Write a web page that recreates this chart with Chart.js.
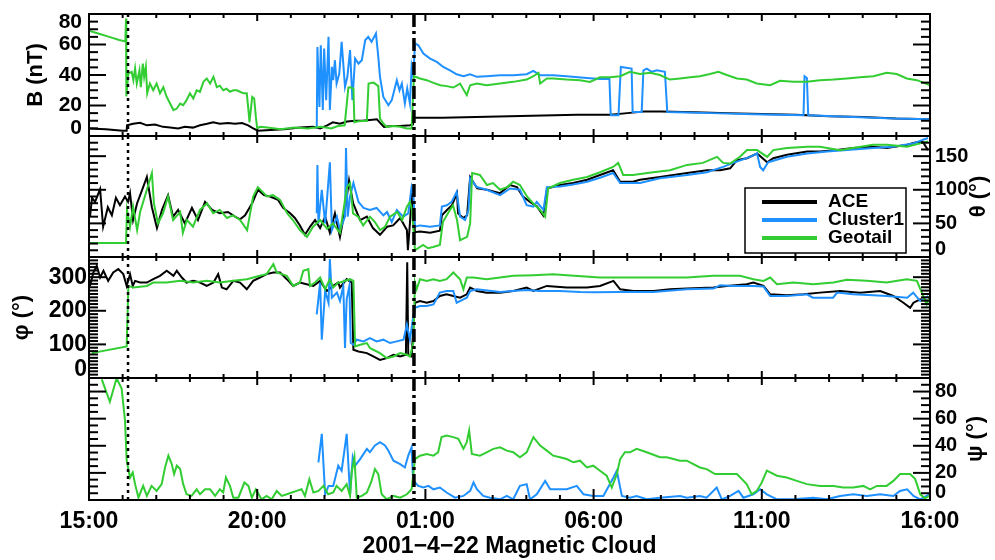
<!DOCTYPE html>
<html>
<head>
<meta charset="utf-8">
<title>2001-4-22 Magnetic Cloud</title>
<script src="https://cdn.jsdelivr.net/npm/chart.js@4.4.1/dist/chart.umd.min.js"></script>
<style>
  html, body { margin: 0; padding: 0; background: #fff; }
  #stack { position: relative; width: 995px; height: 560px; }
  #stack canvas { position: absolute; left: 0; top: 0; }
</style>
</head>
<body>
<div id="stack">
  <canvas id="panelB" width="995" height="560"></canvas>
  <canvas id="panelTheta" width="995" height="560"></canvas>
  <canvas id="panelPhi" width="995" height="560"></canvas>
  <canvas id="panelPsi" width="995" height="560"></canvas>
</div>
<script>
// Time is in hours after 2001-04-21 15:00 UT
const timeTicks = [0, 5, 10, 15, 20, 25];
const timeLabels = ['15:00', '20:00', '01:00', '06:00', '11:00', '16:00'];
const shockTime = 1.16;   // dotted marker
const cloudStart = 9.66;  // dash-dot marker

// Panel 1: |B| (nT), [hour, value]
const aceB = [[0,5],[0.5,4.5],[1.0,3.5],[1.12,3.5],[1.13,7],[1.31,8],[1.52,8.7],[1.72,7],[1.96,7.5],[2.20,6],[2.41,5.5],[2.65,5],[2.85,6],[3.09,5.5],[3.30,7],[3.51,8],[3.69,9],[3.89,8],[4.13,8.5],[4.34,8],[4.55,8.5],[4.73,7],[4.88,5],[5.02,3.5],[5.4,4],[5.8,4.5],[6.27,5.5],[6.66,6],[6.87,5],[7.08,7],[7.25,9],[7.46,8],[7.67,9.5],[7.91,10],[8.12,10],[8.35,10.5],[8.56,11],[8.68,8],[8.77,6],[9.01,6.5],[9.25,6.5],[9.54,7],[9.63,7.5],[9.66,12],[10.5,12],[11.5,12.5],[12.5,13],[13.5,13.5],[14.5,14],[15.5,14],[16.0,15],[16.5,16],[17.0,16],[18.0,15.5],[19.0,15],[20.0,14.5],[21.0,14],[22.0,13],[23.0,12.5],[24.0,11.5],[25.0,11]];
const clusterB = [[6.77,5],[6.79,58.4],[6.85,19],[6.89,59.5],[6.95,17],[6.99,57.4],[7.05,23.5],[7.12,65],[7.16,17],[7.22,45.3],[7.26,36.6],[7.31,49.7],[7.36,34.4],[7.44,41],[7.51,61.7],[7.61,32.2],[7.68,38.8],[7.76,56.3],[7.83,23.5],[7.91,50.8],[8.01,47.5],[8.11,49.7],[8.21,62.8],[8.30,65],[8.40,61.7],[8.53,67.2],[8.60,51.9],[8.65,38.8],[8.75,25.6],[8.90,20.2],[9.00,23.5],[9.15,36.6],[9.23,30],[9.30,34.4],[9.39,21.3],[9.46,31.1],[9.54,21.3],[9.59,45.3],[9.64,38.8],[9.69,60.7],[9.79,59.5],[9.94,54.1],[10.14,50.8],[10.34,48.6],[10.53,45.3],[10.73,43.1],[10.93,40.5],[11.13,39.2],[11.33,40.5],[11.53,38.8],[11.82,39.2],[12.22,39.9],[12.61,39.9],[13.01,40.5],[13.21,42.7],[13.41,39.9],[13.80,39.9],[14.20,39.2],[14.80,38.1],[15.19,37.4],[15.47,37.4],[15.51,13.6],[15.74,13.6],[15.81,45.3],[16.13,44.2],[16.16,15.8],[16.43,15.8],[16.48,43.1],[16.58,44.2],[16.73,42.1],[16.88,43.1],[17.12,42.1],[17.19,15.8],[17.77,15.4],[18.5,15],[19.75,14.2],[20.5,14],[21.24,13.6],[21.27,39.2],[21.34,38],[21.38,13.6],[22.72,12.5],[23.91,11.5],[25,11]];
const geotailB = [[0,69],[0.3,67],[0.6,65],[0.9,63],[1.08,62],[1.10,77],[1.11,26],[1.17,41],[1.27,42],[1.32,36.6],[1.37,44.3],[1.42,34.4],[1.50,43],[1.54,32],[1.60,47.5],[1.64,38.8],[1.69,45.3],[1.73,28],[1.81,34.4],[1.91,30],[2.01,34.4],[2.11,28],[2.21,32],[2.31,25.6],[2.41,21.3],[2.51,17],[2.61,18],[2.71,21.3],[2.80,20.2],[2.90,23.5],[3.00,28],[3.10,24.6],[3.20,30],[3.30,29],[3.40,35.5],[3.50,37.7],[3.60,34.4],[3.70,38.8],[3.80,32],[3.89,33],[3.99,30],[4.09,31],[4.19,29],[4.29,30],[4.39,30],[4.49,29],[4.59,28],[4.69,28],[4.74,17],[4.77,9],[4.81,17],[4.85,25.6],[4.91,24.6],[4.96,12.5],[5.00,5],[5.08,6],[5.3,5.5],[5.7,4.5],[6.1,5.5],[6.5,5],[6.9,6],[7.2,5],[7.4,6.5],[7.6,7],[7.71,31.8],[7.76,32],[7.86,31],[7.89,9],[8.01,9.7],[8.26,10],[8.31,34.4],[8.46,35],[8.60,32.7],[8.65,11.5],[8.75,8.2],[8.85,6],[9.05,6.5],[9.25,6],[9.45,5],[9.59,5],[9.66,39.2],[9.84,37.7],[10.04,36.6],[10.24,34.8],[10.44,33.3],[10.63,32.7],[10.83,31.8],[11.03,34.4],[11.23,26.8],[11.33,33.3],[11.53,34.4],[11.82,33.3],[12.22,34.4],[12.61,35.5],[13.01,37],[13.21,39.2],[13.36,41.4],[13.41,34.4],[13.61,37.7],[13.80,37.7],[14.20,37],[14.60,36.6],[14.89,35.5],[15.19,38.5],[15.49,38.5],[15.79,39.2],[16.08,42.1],[16.38,40.6],[16.68,41.4],[16.97,40],[17.27,37],[17.57,37.7],[17.87,38.5],[18.16,39.2],[18.46,40.6],[18.71,42.1],[18.96,40],[19.26,37.7],[19.55,37],[19.85,34.4],[20.25,33.3],[20.54,36.2],[20.94,35.5],[21.34,35.5],[21.73,36.6],[22.13,37],[22.53,37.7],[22.92,38.5],[23.32,39.2],[23.71,41.4],[24.01,40.6],[24.31,37.7],[24.61,36.6],[25,33.3]];

// Panel 2: theta (deg)
const aceTheta = [[0.03,60],[0.09,88],[0.18,82],[0.33,101],[0.42,45],[0.56,74],[0.68,62],[0.80,88],[0.92,77],[1.07,90],[1.16,82],[1.22,95],[1.31,55],[1.43,80],[1.58,100],[1.72,119],[1.87,74],[2.02,43],[2.17,70],[2.35,92],[2.50,60],[2.65,70],[2.85,50],[3.06,73],[3.24,55],[3.45,82],[3.66,70],[3.89,65],[4.13,67],[4.34,60],[4.49,56],[4.64,62],[4.85,80],[5.02,100],[5.20,92],[5.38,90],[5.62,85],[5.77,73],[5.98,65],[6.12,58],[6.27,47],[6.42,33],[6.57,45],[6.72,55],[6.87,43],[7.02,60],[7.16,36],[7.31,65],[7.46,30],[7.61,70],[7.73,114],[7.85,80],[8.06,55],[8.26,60],[8.44,43],[8.65,33],[8.86,45],[9.04,47],[9.25,58],[9.45,40],[9.48,10],[9.54,50],[9.60,95],[9.69,37],[9.84,38],[10.14,36],[10.43,39],[10.49,62],[10.64,70],[10.79,77],[10.94,95],[10.97,65],[11.12,58],[11.24,62],[11.33,119],[11.54,102],[11.83,100],[12.22,95],[12.52,107],[12.72,104],[12.90,90],[13.11,82],[13.32,75],[13.50,62],[13.62,102],[14.00,107],[14.39,110],[14.81,115],[15.19,122],[15.58,129],[15.79,112],[16.17,112],[16.38,115],[16.97,119],[17.78,125],[18.37,129],[18.76,129],[19.06,132],[19.26,144],[19.56,147],[19.86,154],[20.16,141],[20.34,147],[20.75,152],[21.35,157],[21.73,157],[22.24,159],[22.71,162],[23.31,164],[23.72,162],[24.32,167],[24.62,171],[24.79,171],[24.94,159]];
const clusterTheta = [[6.77,65],[6.79,137],[6.82,50],[6.92,100],[7.02,50],[7.16,141],[7.22,40],[7.37,60],[7.46,40],[7.61,60],[7.64,162],[7.69,60],[7.76,90],[7.86,110],[8.01,82],[8.16,73],[8.35,70],[8.55,73],[8.75,62],[8.86,67],[9.00,52],[9.15,70],[9.34,60],[9.49,65],[9.59,104],[9.64,95],[9.69,45],[9.84,47],[10.14,45],[10.43,47],[10.49,75],[10.64,77],[10.78,82],[10.93,97],[11.03,60],[11.18,55],[11.28,70],[11.33,117],[11.53,104],[11.82,100],[12.22,92],[12.52,102],[12.81,100],[13.01,77],[13.21,75],[13.31,82],[13.51,70],[13.61,104],[14.00,105],[14.39,108],[14.81,112],[15.19,118],[15.58,125],[15.79,110],[16.38,110],[16.97,117],[17.78,122],[18.37,126],[18.85,134],[19.15,140],[19.65,149],[19.86,154],[19.95,134],[20.04,129],[20.19,141],[20.75,149],[21.35,154],[21.94,157],[22.54,159],[23.31,162],[23.90,164],[24.50,169],[24.94,177]];
const geotailTheta = [[0,21],[1.10,21],[1.13,70],[1.22,45],[1.31,75],[1.43,40],[1.52,67],[1.66,90],[1.87,125],[1.93,80],[2.05,50],[2.20,65],[2.35,90],[2.50,55],[2.71,67],[2.79,36],[2.91,55],[3.09,45],[3.30,70],[3.51,80],[3.69,65],[3.89,70],[4.10,58],[4.28,62],[4.49,55],[4.70,40],[4.88,90],[5.02,104],[5.29,90],[5.47,92],[5.68,85],[5.89,65],[6.06,55],[6.27,40],[6.48,30],[6.66,45],[6.87,55],[7.08,42],[7.25,50],[7.46,36],[7.67,104],[7.76,110],[7.85,65],[8.00,60],[8.15,47],[8.35,60],[8.50,52],[8.65,40],[8.80,45],[8.95,60],[9.16,67],[9.31,55],[9.45,75],[9.54,82],[9.60,70],[9.69,10],[9.93,18],[10.08,13],[10.23,15],[10.43,18],[10.52,52],[10.67,65],[10.82,77],[10.94,55],[11.03,25],[11.24,30],[11.33,50],[11.39,125],[11.62,122],[11.83,107],[12.01,110],[12.22,100],[12.43,104],[12.61,112],[12.81,107],[13.02,90],[13.20,80],[13.41,70],[13.56,60],[13.65,102],[14.00,110],[14.39,115],[14.81,119],[15.19,126],[15.58,134],[15.73,140],[15.88,122],[16.17,122],[16.77,126],[17.27,129],[17.78,137],[18.25,140],[18.67,149],[18.85,140],[19.06,139],[19.35,149],[19.56,159],[19.86,159],[20.16,149],[20.34,159],[20.75,162],[21.35,164],[21.73,164],[22.33,159],[22.71,162],[23.31,167],[23.72,167],[24.32,164],[24.71,169],[24.94,172]];

// Panel 3: phi (deg)
const acePhi = [[0.03,274],[0.13,314],[0.23,334],[0.33,299],[0.43,319],[0.57,289],[0.72,314],[0.87,324],[1.02,309],[1.12,274],[1.22,309],[1.30,274],[1.37,289],[1.52,284],[1.72,284],[1.91,294],[2.11,304],[2.31,319],[2.51,304],[2.61,319],[2.76,299],[2.90,284],[3.10,289],[3.30,284],[3.50,274],[3.70,284],[3.84,309],[3.95,269],[4.09,264],[4.29,289],[4.49,284],[4.69,264],[4.88,289],[5.08,299],[5.28,309],[5.48,314],[5.68,314],[5.88,294],[6.07,274],[6.27,284],[6.47,279],[6.67,274],[6.87,289],[7.07,259],[7.26,274],[7.41,284],[7.46,269],[7.66,294],[7.81,284],[7.86,84],[8.01,79],[8.26,74],[8.45,64],[8.65,54],[8.85,59],[9.05,69],[9.25,64],[9.42,69],[9.46,344],[9.49,69],[9.59,64],[9.69,224],[9.84,229],[10.04,224],[10.24,229],[10.43,244],[10.63,249],[10.83,244],[11.03,239],[11.23,249],[11.33,269],[11.53,259],[11.82,254],[12.22,254],[12.61,259],[13.01,269],[13.21,259],[13.61,274],[14.20,269],[14.80,269],[15.19,274],[15.59,289],[15.79,264],[16.18,259],[16.78,259],[17.27,264],[17.77,266],[18.56,269],[18.96,274],[19.55,279],[19.75,284],[20.05,274],[20.25,249],[20.74,246],[21.24,249],[21.73,254],[22.33,259],[22.92,254],[23.52,259],[23.91,244],[24.21,224],[24.41,209],[24.51,224],[24.71,234],[24.95,229]];
const clusterPhi = [[6.77,189],[6.87,284],[6.92,114],[7.02,259],[7.12,224],[7.16,354],[7.22,239],[7.37,254],[7.46,229],[7.56,274],[7.61,89],[7.66,234],[7.74,274],[7.78,104],[7.86,99],[7.96,114],[8.16,109],[8.35,119],[8.55,109],[8.75,114],[8.95,104],[9.15,109],[9.35,114],[9.45,159],[9.54,114],[9.64,184],[9.69,209],[9.84,214],[10.04,214],[10.24,219],[10.43,254],[10.63,259],[10.83,259],[10.93,224],[11.13,234],[11.23,239],[11.33,259],[11.53,264],[12.22,256],[12.5,258],[13.0,262],[13.41,259],[14.0,259],[14.60,256],[15.0,255],[15.79,256],[16.77,256],[17.77,264],[18.56,266],[18.76,276],[19.15,274],[19.75,274],[20.05,272],[20.25,244],[20.74,244],[21.34,249],[21.52,239],[22.12,239],[22.24,254],[22.71,249],[23.31,246],[23.72,244],[24.32,239],[24.50,254],[24.71,229],[24.95,244]];
const geotailPhi = [[0.08,74],[1.12,94],[1.17,274],[1.32,269],[1.72,274],[1.91,284],[2.31,284],[2.71,289],[3.10,284],[3.50,289],[3.89,284],[4.29,289],[4.69,294],[5.08,304],[5.28,309],[5.48,339],[5.58,314],[5.88,304],[6.07,274],[6.27,284],[6.37,319],[6.52,324],[6.57,274],[6.72,284],[6.87,299],[7.02,264],[7.16,294],[7.26,269],[7.41,284],[7.46,284],[7.76,294],[7.86,289],[7.91,94],[8.06,99],[8.26,104],[8.35,89],[8.45,84],[8.65,74],[8.85,59],[9.05,64],[9.25,74],[9.45,69],[9.54,64],[9.64,104],[9.69,284],[9.74,264],[9.84,294],[10.04,289],[10.24,294],[10.43,289],[10.63,294],[10.83,314],[11.03,294],[11.13,264],[11.23,299],[11.43,299],[11.82,294],[12.22,299],[12.61,304],[13.21,306],[13.80,309],[14.20,306],[15.19,299],[16.18,299],[16.78,299],[17.77,299],[18.56,304],[19.35,304],[19.75,294],[20.05,289],[20.25,299],[20.45,279],[20.94,284],[21.53,279],[22.13,284],[22.53,292],[23.12,289],[23.71,284],[24.31,294],[24.61,289],[24.80,244],[24.90,219],[25,244]];

// Panel 4: psi (deg)
const clusterPsi = [[6.82,27.8],[6.92,48.8],[7.02,4.2],[7.12,10.4],[7.26,10.4],[7.41,25.3],[7.51,21.6],[7.66,48.8],[7.76,4.2],[7.84,31.5],[7.91,25.3],[8.06,30.2],[8.26,37.7],[8.35,35.2],[8.50,40.2],[8.65,42.6],[8.80,40.2],[8.90,36.4],[9.05,29],[9.25,26.5],[9.39,24],[9.49,32.7],[9.59,38.9],[9.64,11.7],[9.69,12.9],[9.79,10.4],[9.94,9.2],[10.09,10.4],[10.24,7.9],[10.43,9.2],[10.63,5.5],[10.88,1.7],[11.13,3],[11.33,6.7],[11.43,12.9],[11.53,7.9],[11.72,3],[11.92,1.7],[12.22,0.5],[12.42,3],[12.61,0.5],[12.81,10.4],[13.01,11.7],[13.11,0.5],[13.31,4.2],[13.56,14.1],[13.71,7.9],[13.90,7.9],[14.20,7.9],[14.50,10.4],[14.70,4.2],[14.99,3],[15.29,3],[15.59,16.6],[15.69,21.6],[15.84,3],[16.08,1.7],[16.28,3],[16.58,0.5],[16.97,1.7],[17.57,3],[17.77,1.7],[18.16,3],[18.36,1.7],[18.66,9.2],[18.81,0.5],[19.06,3],[19.31,6.7],[19.45,1.7],[19.75,4.2],[19.95,7.9],[20.15,4.2],[20.45,0.5],[20.94,0.5],[21.53,1.7],[21.93,0.5],[22.33,3],[22.72,4.2],[23.12,3],[23.52,4.2],[23.91,3],[24.11,6.7],[24.32,7.9],[24.51,3],[24.71,0.5],[24.98,4.2]];
const geotailPsi = [[0.38,89],[0.62,72.4],[0.82,89.8],[0.97,82.3],[1.07,58.8],[1.12,29],[1.22,16.6],[1.30,20.3],[1.37,11.7],[1.47,1.7],[1.61,10.4],[1.72,3],[1.86,10.4],[2.01,6.7],[2.16,11.7],[2.26,24],[2.36,32.7],[2.46,26.5],[2.53,19.1],[2.61,25.3],[2.71,22.8],[2.80,11.7],[2.90,4.2],[3.05,3],[3.20,7.9],[3.30,4.2],[3.45,7.9],[3.60,7.9],[3.75,3],[3.89,7.9],[3.99,5.5],[4.07,16.6],[4.19,10.4],[4.29,1.7],[4.44,1.7],[4.62,12.9],[4.74,10.4],[4.84,1.7],[4.96,7.9],[5.13,0.5],[5.28,3],[5.43,0.5],[5.58,6.7],[5.73,3],[5.88,4.2],[6.03,5.5],[6.17,6.7],[6.32,7.9],[6.42,3],[6.55,15.4],[6.67,5.5],[6.82,6.7],[6.97,10.4],[7.11,4.2],[7.26,5.5],[7.36,10.4],[7.51,6.7],[7.66,11.7],[7.76,3],[7.81,20.3],[7.89,31.5],[7.96,1.7],[8.11,3],[8.26,5.5],[8.40,14.1],[8.50,22.8],[8.60,19.1],[8.70,4.2],[8.85,0.5],[9.05,3],[9.25,1.7],[9.45,4.2],[9.59,7.9],[9.69,30.2],[9.84,32.7],[10.04,34],[10.24,32.7],[10.38,35.2],[10.48,46.4],[10.63,47.6],[10.83,46.4],[10.98,45.1],[11.13,37.7],[11.23,42.6],[11.30,51.3],[11.38,34],[11.62,32.7],[11.82,35.2],[12.02,37.7],[12.22,38.9],[12.42,36.4],[12.61,35.2],[12.81,31.5],[13.01,35.2],[13.21,46.4],[13.41,40.2],[13.61,36.4],[13.80,32.7],[14.00,31.5],[14.20,30.2],[14.40,27.8],[14.60,29],[14.80,24],[14.99,25.3],[15.19,21.6],[15.39,17.9],[15.54,9.2],[15.69,19.1],[15.79,30.2],[15.93,35.2],[16.08,35.2],[16.28,37.7],[16.58,35.2],[16.97,31.5],[17.17,31.5],[17.57,29],[17.77,29],[18.16,24],[18.36,22.8],[18.61,19.1],[18.96,19.1],[19.26,19.1],[19.55,11.7],[19.70,4.2],[19.85,6.7],[20.00,12.9],[20.15,21.6],[20.45,17.9],[20.74,16.6],[21.04,14.1],[21.34,11.7],[21.73,10.4],[22.13,10.4],[22.42,9.2],[22.72,9.2],[23.02,10.4],[23.22,7.9],[23.42,10.4],[23.71,10.4],[23.91,14.1],[24.11,19.1],[24.41,19.1],[24.56,15.4],[24.71,4.2],[24.85,1.2],[24.98,3]];

const seriesNames = ['ACE', 'Cluster1', 'Geotail'];
const seriesColors = ['#000000', '#1e90ff', '#32cd32'];

// ---- layout and drawing ----
const W = 995, H = 560;
const PLOT_L = 89, PLOT_R = 930;
const FONT = '"Liberation Sans", Arial, Helvetica, sans-serif';

function toPoints(pairs) {
    return pairs.map(p => ({ x: p[0], y: p[1] }));
}

function line(ctx, x1, y1, x2, y2) {
    ctx.beginPath();
    ctx.moveTo(x1, y1);
    ctx.lineTo(x2, y2);
    ctx.stroke();
}

// IDL-style frame: inward ticks on all four sides, labels on one side
function idlAxes(cfg) {
    return {
        id: 'idlAxes',
        afterDatasetsDraw(chart) {
            const ctx = chart.ctx;
            const a = chart.chartArea;
            const xs = chart.scales.x;
            const ys = chart.scales.y;
            ctx.save();
            ctx.strokeStyle = '#000';
            ctx.fillStyle = '#000';

            // event markers
            let px = xs.getPixelForValue(shockTime);
            ctx.lineWidth = 2.5;
            ctx.setLineDash([3, 4]);
            line(ctx, px, a.top, px, a.bottom);
            px = xs.getPixelForValue(cloudStart);
            ctx.lineWidth = 3.5;
            ctx.setLineDash([13, 4, 3, 4]);
            line(ctx, px, a.top, px, a.bottom);
            ctx.setLineDash([]);

            // frame
            ctx.lineWidth = 2;
            ctx.strokeRect(a.left, a.top, a.right - a.left, a.bottom - a.top);

            // hour ticks
            for (let h = 0; h <= 25; h++) {
                const tx = xs.getPixelForValue(h);
                const major = h % 5 === 0;
                const topLen = major ? 7 : 4;
                const botLen = cfg.timeAxis ? (major ? 11 : 5) : topLen;
                line(ctx, tx, a.top, tx, a.top + topLen);
                line(ctx, tx, a.bottom, tx, a.bottom - botLen);
            }

            // value ticks, both sides
            for (let v = cfg.min; v <= cfg.max; v += cfg.minor) {
                const ty = ys.getPixelForValue(v);
                const len = v % cfg.major === 0 ? 17 : 9;
                line(ctx, a.left, ty, a.left + len, ty);
                line(ctx, a.right, ty, a.right - len, ty);
            }

            // value labels
            ctx.font = 'bold ' + cfg.labelSize + 'px ' + FONT;
            ctx.textBaseline = 'middle';
            ctx.textAlign = cfg.side === 'left' ? 'right' : 'left';
            const lx = cfg.side === 'left' ? a.left - cfg.labelGap : a.right + cfg.labelGap;
            cfg.labels.forEach(v => {
                const ty = Math.min(Math.max(ys.getPixelForValue(v), a.top + 8), a.bottom - 8);
                ctx.fillText(String(v), lx, ty);
            });

            // axis title, reads bottom to top on both sides
            ctx.save();
            ctx.translate(cfg.titleX, (a.top + a.bottom) / 2);
            ctx.rotate(-Math.PI / 2);
            ctx.textAlign = 'center';
            ctx.font = 'bold 22px ' + FONT;
            ctx.fillText(cfg.title, 0, 0);
            ctx.restore();

            if (cfg.extra) cfg.extra(chart, ctx, a, xs);
            ctx.restore();
        }
    };
}

function drawLegend(chart, ctx, a) {
    const bw = 161, bh = 65;
    const bx = a.right - 24 - bw;
    const by = a.bottom - 4 - bh;
    ctx.fillStyle = '#fff';
    ctx.fillRect(bx, by, bw, bh);
    ctx.lineWidth = 1.5;
    ctx.strokeRect(bx, by, bw, bh);
    ctx.font = 'bold 19px ' + FONT;
    ctx.textAlign = 'left';
    ctx.textBaseline = 'middle';
    seriesNames.forEach((name, i) => {
        const y = by + 14 + i * 18;
        ctx.strokeStyle = seriesColors[i];
        ctx.lineWidth = 4;
        line(ctx, bx + 17, y, bx + 72, y);
        ctx.fillStyle = '#000';
        ctx.fillText(name, bx + 83, y);
    });
}

function drawTimeAxis(chart, ctx, a, xs) {
    ctx.font = 'bold 23px ' + FONT;
    ctx.textAlign = 'center';
    ctx.textBaseline = 'middle';
    timeTicks.forEach((t, i) => {
        ctx.fillText(timeLabels[i], xs.getPixelForValue(t), a.bottom + 22);
    });
    ctx.fillText('2001\u22124\u221222 Magnetic Cloud', (a.left + a.right) / 2, 547);
}

function makePanel(canvasId, box, series, cfg) {
    const datasets = series.map(s => ({
        label: seriesNames[s.idx],
        data: toPoints(s.data),
        borderColor: seriesColors[s.idx],
        borderWidth: 2,
        pointRadius: 0,
        tension: 0,
        fill: false,
        order: 3 - s.idx
    }));
    return new Chart(document.getElementById(canvasId), {
        type: 'line',
        data: { datasets },
        options: {
            responsive: false,
            animation: false,
            events: [],
            layout: { padding: { left: PLOT_L, right: W - PLOT_R, top: box[0], bottom: H - box[1] } },
            plugins: { legend: { display: false }, tooltip: { enabled: false } },
            scales: {
                x: { type: 'linear', min: 0, max: 25, display: false },
                y: { type: 'linear', min: cfg.min, max: cfg.max, display: false }
            }
        },
        plugins: [idlAxes(cfg)]
    });
}

makePanel('panelB', [14, 136],
    [{ idx: 0, data: aceB }, { idx: 1, data: clusterB }, { idx: 2, data: geotailB }],
    { min: 0, max: 80, minor: 5, major: 20, labels: [0, 20, 40, 60, 80], side: 'left', labelSize: 21, labelGap: 7, title: 'B (nT)', titleX: 36 });

makePanel('panelTheta', [136, 257],
    [{ idx: 0, data: aceTheta }, { idx: 1, data: clusterTheta }, { idx: 2, data: geotailTheta }],
    { min: 0, max: 180, minor: 10, major: 50, labels: [0, 50, 100, 150], side: 'right', labelSize: 20, labelGap: 5, title: '\u03b8 (\u00b0)', titleX: 979, extra: drawLegend });

makePanel('panelPhi', [257, 378],
    [{ idx: 0, data: acePhi }, { idx: 1, data: clusterPhi }, { idx: 2, data: geotailPhi }],
    { min: 0, max: 360, minor: 10, major: 100, labels: [0, 100, 200, 300], side: 'left', labelSize: 23, labelGap: 2, title: '\u03c6 (\u00b0)', titleX: 22 });

makePanel('panelPsi', [378, 500],
    [{ idx: 1, data: clusterPsi }, { idx: 2, data: geotailPsi }],
    { min: 0, max: 90, minor: 5, major: 20, labels: [0, 20, 40, 60, 80], side: 'right', labelSize: 20, labelGap: 5, title: '\u03c8 (\u00b0)', titleX: 976, timeAxis: true, extra: drawTimeAxis });
</script>
</body>
</html>
